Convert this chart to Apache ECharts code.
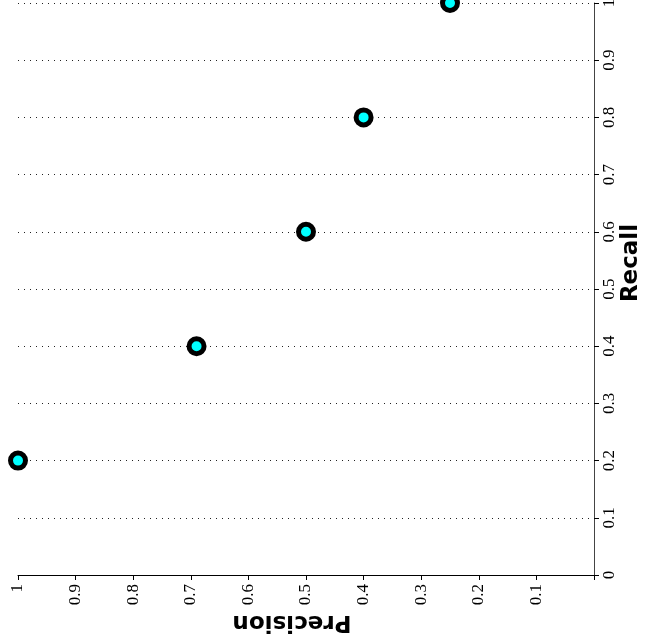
<!DOCTYPE html>
<html>
<head>
<meta charset="utf-8">
<script src="https://cdn.jsdelivr.net/npm/echarts@6/dist/echarts.min.js"></script>
<style>
html,body{margin:0;padding:0;background:#fff;}
#chart{width:648px;height:642px;}
</style>
</head>
<body>
<div id="chart"></div>
<script>
// Data (chart drawn rotated: Recall on the right vertical axis, Precision on the bottom, reversed)
var recall = [0.2, 0.4, 0.6, 0.8, 1.0];
var precision = [1.0, 0.69, 0.5, 0.4, 0.25];
var tickValues = [0, 0.1, 0.2, 0.3, 0.4, 0.5, 0.6, 0.7, 0.8, 0.9, 1];
var xTitle = 'Precision';
var yTitle = 'Recall';

function fmt(v) {
  var r = Math.round(v * 10) / 10;
  return r === 1 ? '1' : (r === 0 ? '0' : String(r));
}

var chart = echarts.init(document.getElementById('chart'), null, {renderer: 'canvas'});
var points = precision.map(function (p, i) { return [p, recall[i]]; });

chart.setOption({
  animation: false,
  backgroundColor: '#ffffff',
  grid: {left: 18, right: 54, top: 3, bottom: 67, containLabel: false, outerBoundsMode: 'none'},
  xAxis: {
    type: 'value', position: 'bottom', inverse: true,
    min: 0, max: 1, interval: 0.1,
    axisLine: {show: true, onZero: false, lineStyle: {color: '#000', width: 1}},
    axisTick: {show: true, inside: false, length: 5, lineStyle: {color: '#000'}},
    splitLine: {show: false},
    axisLabel: {
      rotate: 90, margin: 9, color: '#000',
      fontFamily: 'Liberation Serif', fontSize: 17,
      formatter: function (v) { return v < 0.05 ? '' : fmt(v); }
    }
  },
  yAxis: {
    type: 'value', position: 'right',
    min: 0, max: 1, interval: 0.1,
    axisLine: {show: true, onZero: false, lineStyle: {color: '#444', width: 1}},
    axisTick: {show: true, inside: false, length: 5, lineStyle: {color: '#000'}},
    splitLine: {show: true, lineStyle: {color: '#222', type: [1, 5], width: 1}},
    axisLabel: {
      rotate: 90, margin: 7, color: '#000',
      fontFamily: 'Liberation Serif', fontSize: 17,
      formatter: function (v) { return fmt(v); }
    }
  },
  graphic: [
    {type: 'text', x: 292, y: 622, rotation: Math.PI,
      style: {text: xTitle, font: 'bold 23px "DejaVu Sans"', fill: '#000', textAlign: 'center', textVerticalAlign: 'middle'}},
    {type: 'text', x: 631, y: 263, rotation: Math.PI / 2,
      style: {text: yTitle, font: 'bold 23px "DejaVu Sans"', fill: '#000', textAlign: 'center', textVerticalAlign: 'middle'}}
  ],
  series: [{
    type: 'scatter',
    data: points,
    clip: false,
    symbol: 'circle',
    symbolSize: 15,
    itemStyle: {color: '#00FFFF', borderColor: '#000', borderWidth: 5, opacity: 1}
  }]
});
</script>
</body>
</html>
